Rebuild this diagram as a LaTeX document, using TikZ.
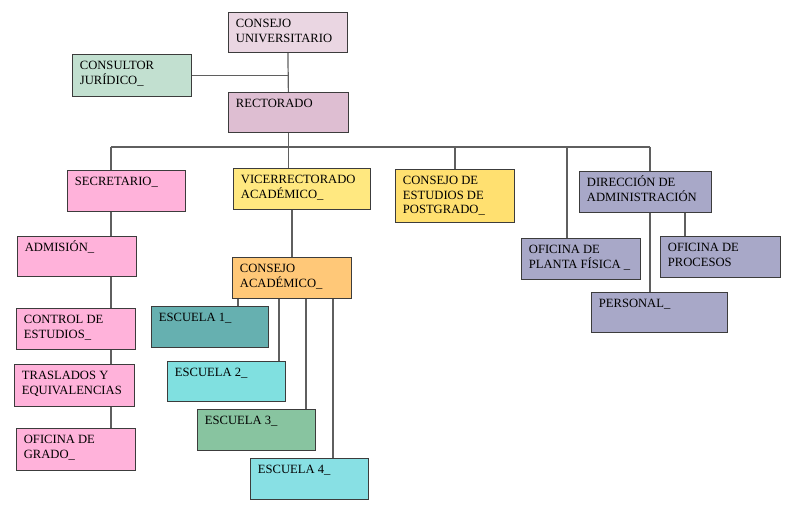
\documentclass[tikz,border=0pt]{standalone}
\usepackage{fontspec}
\setmainfont{Liberation Serif}
\usetikzlibrary{backgrounds}

\definecolor{borde}{RGB}{60,60,60}
\definecolor{conector}{RGB}{95,95,95}
\definecolor{rosaclaro}{RGB}{234,214,226}
\definecolor{verdeclaro}{RGB}{194,224,208}
\definecolor{malva}{RGB}{222,190,210}
\definecolor{rosa}{RGB}{255,178,218}
\definecolor{amarillo}{RGB}{255,232,128}
\definecolor{amarillodos}{RGB}{255,224,112}
\definecolor{naranja}{RGB}{255,200,120}
\definecolor{lila}{RGB}{168,168,200}
\definecolor{teal}{RGB}{102,176,176}
\definecolor{cian}{RGB}{128,224,224}
\definecolor{verdemar}{RGB}{136,196,160}
\definecolor{ciandos}{RGB}{136,224,228}

\newcommand{\rotulo}[3]{\parbox[t][#2][t]{#1}{\raggedright\leftskip=7.5pt\rule{0pt}{15.5pt}#3}}

\tikzset{
  caja/.style={draw=borde, line width=0.8pt, anchor=north west, inner sep=0pt,
    font=\fontsize{12.6}{14.5}\selectfont},
  linea/.style={draw=conector, line width=1.2pt}
}

\begin{document}
\begin{tikzpicture}[x=1pt, y=-1pt]
  \useasboundingbox (0,0) rectangle (787,521);
  % cabeza
  \node[caja, fill=rosaclaro] (cu) at (228,12) {\rotulo{119pt}{40pt}{CONSEJO\\UNIVERSITARIO}};
  \node[caja, fill=verdeclaro] (cons) at (72,54) {\rotulo{119pt}{42pt}{CONSULTOR\\JURÍDICO\_}};
  \node[caja, fill=malva] (rect) at (228,92) {\rotulo{120pt}{40pt}{RECTORADO}};
  % segundo nivel
  \node[caja, fill=rosa] (secr) at (67,170) {\rotulo{118pt}{41pt}{SECRETARIO\_}};
  \node[caja, fill=amarillo] (vice) at (233,168) {\rotulo{137pt}{41pt}{VICERRECTORADO\\ACADÉMICO\_}};
  \node[caja, fill=amarillodos] (post) at (395,169) {\rotulo{119pt}{53pt}{CONSEJO DE\\ESTUDIOS DE\\POSTGRADO\_}};
  \node[caja, fill=lila] (dir) at (579,171) {\rotulo{132pt}{41pt}{DIRECCIÓN DE\\ADMINISTRACIÓN}};
  \node[caja, fill=lila] (pf) at (521,238) {\rotulo{119pt}{41pt}{OFICINA DE\\PLANTA FÍSICA \_}};
  \node[caja, fill=lila] (proc) at (660,236) {\rotulo{120pt}{41pt}{OFICINA DE\\PROCESOS}};
  \node[caja, fill=lila] (pers) at (591,292) {\rotulo{136pt}{40pt}{PERSONAL\_}};
  % secretaria
  \node[caja, fill=rosa] (adm) at (17,236) {\rotulo{119pt}{40pt}{ADMISIÓN\_}};
  \node[caja, fill=rosa] (ctrl) at (16,308) {\rotulo{119pt}{41pt}{CONTROL DE\\ESTUDIOS\_}};
  \node[caja, fill=rosa] (tras) at (14,364) {\rotulo{120pt}{42pt}{TRASLADOS Y\\EQUIVALENCIAS}};
  \node[caja, fill=rosa] (grado) at (16,428) {\rotulo{119pt}{42pt}{OFICINA DE\\GRADO\_}};
  % academico
  \node[caja, fill=naranja] (ca) at (232,257) {\rotulo{119pt}{41pt}{CONSEJO\\ACADÉMICO\_}};
  \node[caja, fill=teal] (esc1) at (151,306) {\rotulo{117pt}{41pt}{ESCUELA 1\_}};
  \node[caja, fill=cian] (esc2) at (167,361) {\rotulo{118pt}{40pt}{ESCUELA 2\_}};
  \node[caja, fill=verdemar] (esc3) at (197,409) {\rotulo{118pt}{41pt}{ESCUELA 3\_}};
  \node[caja, fill=ciandos] (esc4) at (250,458) {\rotulo{118pt}{41pt}{ESCUELA 4\_}};

  \coordinate (busL) at (111,147);
  \coordinate (busR) at (650,147);
  \coordinate (bajaPF) at (567,147);
  \coordinate (bajaProc) at (685,212);

  \begin{scope}[on background layer]
    \draw[linea] (cu.south) -- (rect.north);
    \draw[linea] (cons.east) -- (cons.east -| cu.south);
    \draw[linea] (rect.south) -- (vice.north -| rect.south);
    \draw[linea] (busL) -- (busR);
    \draw[linea] (busL) -- (grado.north -| busL);
    \draw[linea] (vice.south -| ca.north) -- (ca.north);
    \draw[linea] (post.north) -- (post.north |- busL);
    \draw[linea] (bajaPF) -- (bajaPF |- pf.north);
    \draw[linea] (busR) -- (pers.north -| busR);
    \draw[linea] (bajaProc) -- (bajaProc |- proc.north);
    \foreach \x/\e in {238/esc1, 279/esc2, 306/esc3, 333/esc4}
      \draw[linea] (ca.south -| \x,0) -- (\e.north -| \x,0);
  \end{scope}
\end{tikzpicture}
\end{document}
